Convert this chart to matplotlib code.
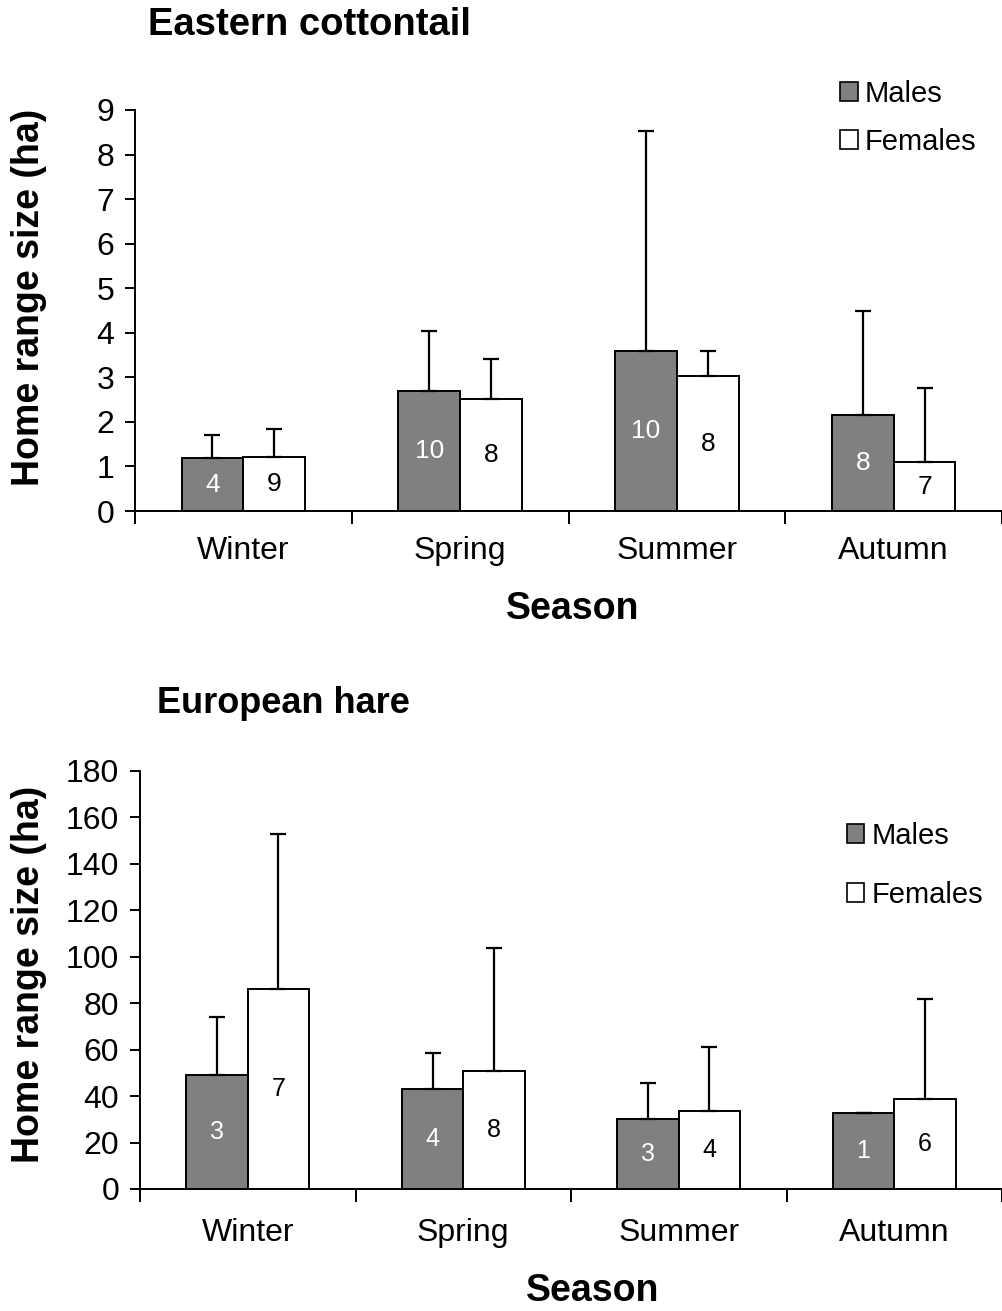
#!/usr/bin/env python3

import matplotlib

matplotlib.use("Agg")
import matplotlib.pyplot as plt
import numpy as np
from matplotlib.patches import Patch

plt.rcParams["font.family"] = ["Liberation Sans", "DejaVu Sans"]

seasons = ["Winter", "Spring", "Summer", "Autumn"]

# Eastern cottontail (ha)
cotton_males = [1.18, 2.69, 3.59, 2.15]
cotton_males_err = [0.53, 1.36, 4.93, 2.33]
cotton_females = [1.21, 2.52, 3.02, 1.09]
cotton_females_err = [0.63, 0.90, 0.57, 1.66]
cotton_n_males = ["4", "10", "10", "8"]
cotton_n_females = ["9", "8", "8", "7"]

# European hare (ha)
hare_males = [49.0, 43.0, 30.0, 32.8]
hare_males_err = [25.0, 15.5, 15.8, 0.0]
hare_females = [86.0, 50.6, 33.5, 38.8]
hare_females_err = [67.0, 53.2, 27.7, 43.0]
hare_n_males = ["3", "4", "3", "1"]
hare_n_females = ["7", "8", "4", "6"]


def draw_panel(ax, males, males_err, females, females_err, n_m, n_f,
               ymax, ystep, nfs, tick_pad):
    x = np.arange(len(seasons))
    w = 0.285
    kw = dict(width=w, edgecolor="black", linewidth=1.4, zorder=2)
    ekw = dict(elinewidth=1.6, capthick=1.6, ecolor="black")
    ax.bar(x - w / 2, males, color="#808080",
           yerr=[np.zeros(len(males)), males_err], capsize=6,
           error_kw=ekw, **kw)
    ax.bar(x + w / 2, females, color="white",
           yerr=[np.zeros(len(females)), females_err], capsize=6,
           error_kw=ekw, **kw)
    for i in range(len(seasons)):
        ax.text(x[i] - w / 2, males[i] / 2, n_m[i], color="white",
                ha="center", va="center", fontsize=nfs, zorder=4)
        ax.text(x[i] + w / 2, females[i] / 2, n_f[i], color="black",
                ha="center", va="center", fontsize=nfs, zorder=4)

    ax.set_xlim(-0.5, len(seasons) - 0.5)
    ax.set_ylim(0, ymax)
    ax.set_yticks(np.arange(0, ymax + ystep / 2, ystep))
    ax.set_xticks(np.arange(len(seasons) + 1) - 0.5)
    ax.set_xticklabels([])
    ax.set_xticks(x, minor=True)
    ax.set_xticklabels(seasons, minor=True)
    ax.tick_params(axis="x", which="major", direction="out", length=9,
                   width=1.4)
    ax.tick_params(axis="x", which="minor", length=0, pad=tick_pad,
                   labelsize=23)
    ax.tick_params(axis="y", direction="out", length=7, width=1.4,
                   labelsize=23, pad=8)
    for s in ["top", "right"]:
        ax.spines[s].set_visible(False)
    for s in ["left", "bottom"]:
        ax.spines[s].set_linewidth(1.4)


def main():
    fig = plt.figure(figsize=(10.03, 13.11), dpi=100)

    ax1 = fig.add_axes([0.1346, 0.6102, 0.8644, 0.3059])
    draw_panel(ax1, cotton_males, cotton_males_err, cotton_females,
               cotton_females_err, cotton_n_males, cotton_n_females,
               9, 1, 19, 18)
    ax1.set_ylabel("Home range size (ha)", fontsize=27, fontweight="bold")
    ax1.yaxis.set_label_coords(-0.101, 0.533)
    ax1.set_xlabel("Season", fontsize=27, fontweight="bold")
    ax1.xaxis.set_label_coords(0.505, -0.2)
    fig.text(148 / 1003, 1 - 25 / 1311, "Eastern cottontail", fontsize=27.5,
             fontweight="bold", ha="left", va="center")

    ax2 = fig.add_axes([0.1396, 0.0931, 0.8594, 0.3188])
    draw_panel(ax2, hare_males, hare_males_err, hare_females,
               hare_females_err, hare_n_males, hare_n_females,
               180, 20, 18, 21)
    ax2.set_ylabel("Home range size (ha)", fontsize=27, fontweight="bold")
    ax2.yaxis.set_label_coords(-0.108, 0.514)
    ax2.set_xlabel("Season", fontsize=27, fontweight="bold")
    ax2.xaxis.set_label_coords(0.525, -0.2)
    fig.text(157 / 1003, 1 - 703 / 1311, "European hare", fontsize=26,
             fontweight="bold", ha="left", va="center")

    handles = [
        Patch(facecolor="#808080", edgecolor="black", linewidth=1.2),
        Patch(facecolor="white", edgecolor="black", linewidth=1.2),
    ]
    for anchor, spacing in [((840 / 1003, 1 - 80 / 1311), 0.68),
                            ((847 / 1003, 1 - 822 / 1311), 1.05)]:
        fig.legend(handles, ["Males", "Females"], loc="upper left",
                   bbox_to_anchor=anchor, frameon=False, fontsize=21,
                   handlelength=0.6, handleheight=0.6, handletextpad=0.25,
                   labelspacing=spacing, borderpad=0, borderaxespad=0)

    fig.savefig("out.png", dpi=100)
    plt.close(fig)


if __name__ == "__main__":
    main()
